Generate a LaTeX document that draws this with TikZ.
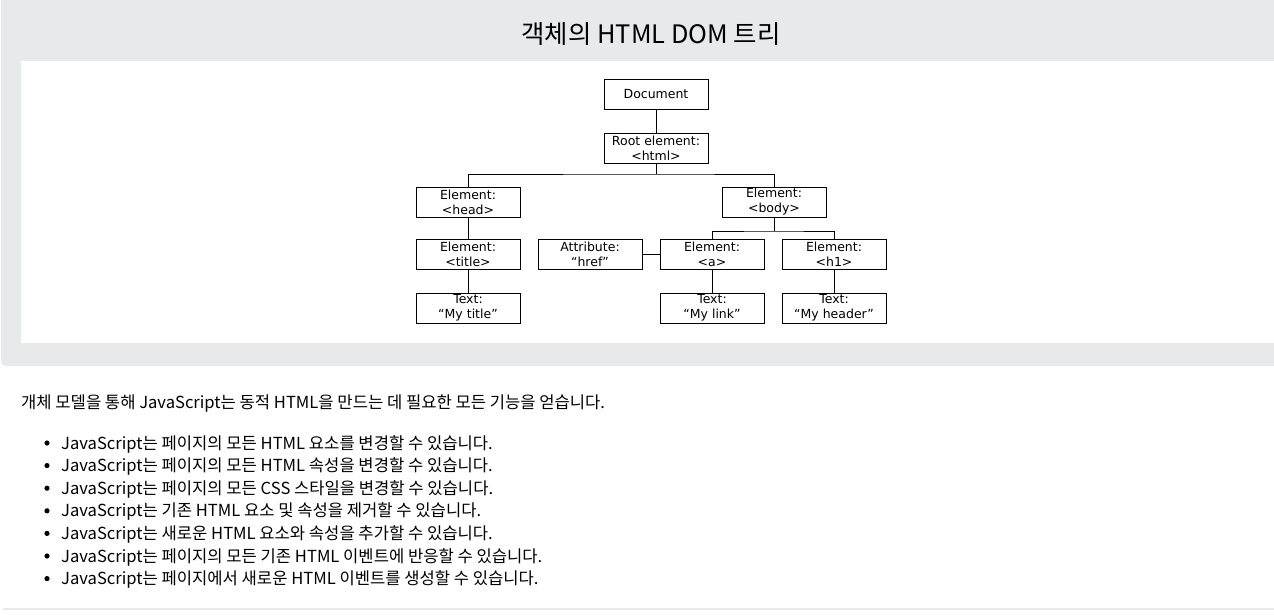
\documentclass[tikz,border=0pt]{standalone}
\usepackage{fontspec}
\setmainfont{DejaVu Sans}
\newfontfamily\krfont{Noto Sans CJK KR}
\usetikzlibrary{calc}

\definecolor{panelgray}{HTML}{E7E9EB}

\tikzset{
	dombox/.style = {draw, line width = 0.9pt, minimum width = 104pt, minimum height = 30pt, inner sep = 0pt, align = center, font = \fontsize{12.5}{15}\selectfont},
	domline/.style = {line width = 0.9pt},
	bodytext/.style = {anchor = west, inner sep = 0pt, font = \krfont\fontsize{16.6}{19}\selectfont}
}

\begin{document}
\begin{tikzpicture}[x = 1pt, y = -1pt]
		\useasboundingbox (0,0) rectangle (1274,615);
		
		% panel
		\fill [panelgray, rounded corners = 5pt] (1,-10) -- (1,366) -- (1280,366) -- (1280,-10) -- cycle;
		\fill [white] (21,61) rectangle (1274,343);
		\node (title) at (651,34) {\krfont\fontsize{25.4}{28}\selectfont 객체의 HTML DOM 트리};
		
		% tree
		\node [dombox] (document) at (656,94) {Document};
		\node [dombox] (root) at (656,148) {Root element:\\<html>};
		\node [dombox] (head) at (468,202) {Element:\\<head>};
		\node [dombox] (body) at (774,202) {Element:\\<body>};
		\node [dombox] (titleel) at (468,254) {Element:\\<title>};
		\node [dombox] (attr) at (590,254) {Attribute:\\“href”};
		\node [dombox] (a) at (712,254) {Element:\\<a>};
		\node [dombox] (h1) at (834,254) {Element:\\<h1>};
		\node [dombox] (mytitle) at (468,308) {Text:\\“My title”};
		\node [dombox] (mylink) at (712,308) {Text:\\“My link”};
		\node [dombox] (myheader) at (834,308) {Text:\\“My header”};
		
		\coordinate (root bus) at (656,174);
		\coordinate (body bus) at (774,231);
		
		\draw [domline] (document) -- (root);
		\draw [domline] (root) -- (root bus);
		\draw [domline] (head.north) |- (root bus) -| (body.north);
		\draw [domline] (head) -- (titleel);
		\draw [domline] (titleel) -- (mytitle);
		\draw [domline] (body) -- (body bus);
		\draw [domline] (a.north) |- (body bus) -| (h1.north);
		\draw [domline] (attr) -- (a);
		\draw [domline] (a) -- (mylink);
		\draw [domline] (h1) -- (myheader);
		
		% text below
		\node [bodytext] (intro) at (21,404) {개체 모델을 통해 JavaScript는 동적 HTML을 만드는 데 필요한 모든 기능을 얻습니다.};
		
		\foreach \txt [count = \i] in {
			JavaScript는 페이지의 모든 HTML 요소를 변경할 수 있습니다.,
			JavaScript는 페이지의 모든 HTML 속성을 변경할 수 있습니다.,
			JavaScript는 페이지의 모든 CSS 스타일을 변경할 수 있습니다.,
			JavaScript는 기존 HTML 요소 및 속성을 제거할 수 있습니다.,
			JavaScript는 새로운 HTML 요소와 속성을 추가할 수 있습니다.,
			JavaScript는 페이지의 모든 기존 HTML 이벤트에 반응할 수 있습니다.,
			JavaScript는 페이지에서 새로운 HTML 이벤트를 생성할 수 있습니다.}
		{
			\fill (47,{443 + (\i - 1) * 22.6}) circle [radius = 2.6pt];
			\node [bodytext] (item\i) at (61,{444 + (\i - 1) * 22.6}) {\txt};
		}
		
		\draw [panelgray, line width = 1.5pt] (3,609) -- (1274,609);
	\end{tikzpicture}
\end{document}
